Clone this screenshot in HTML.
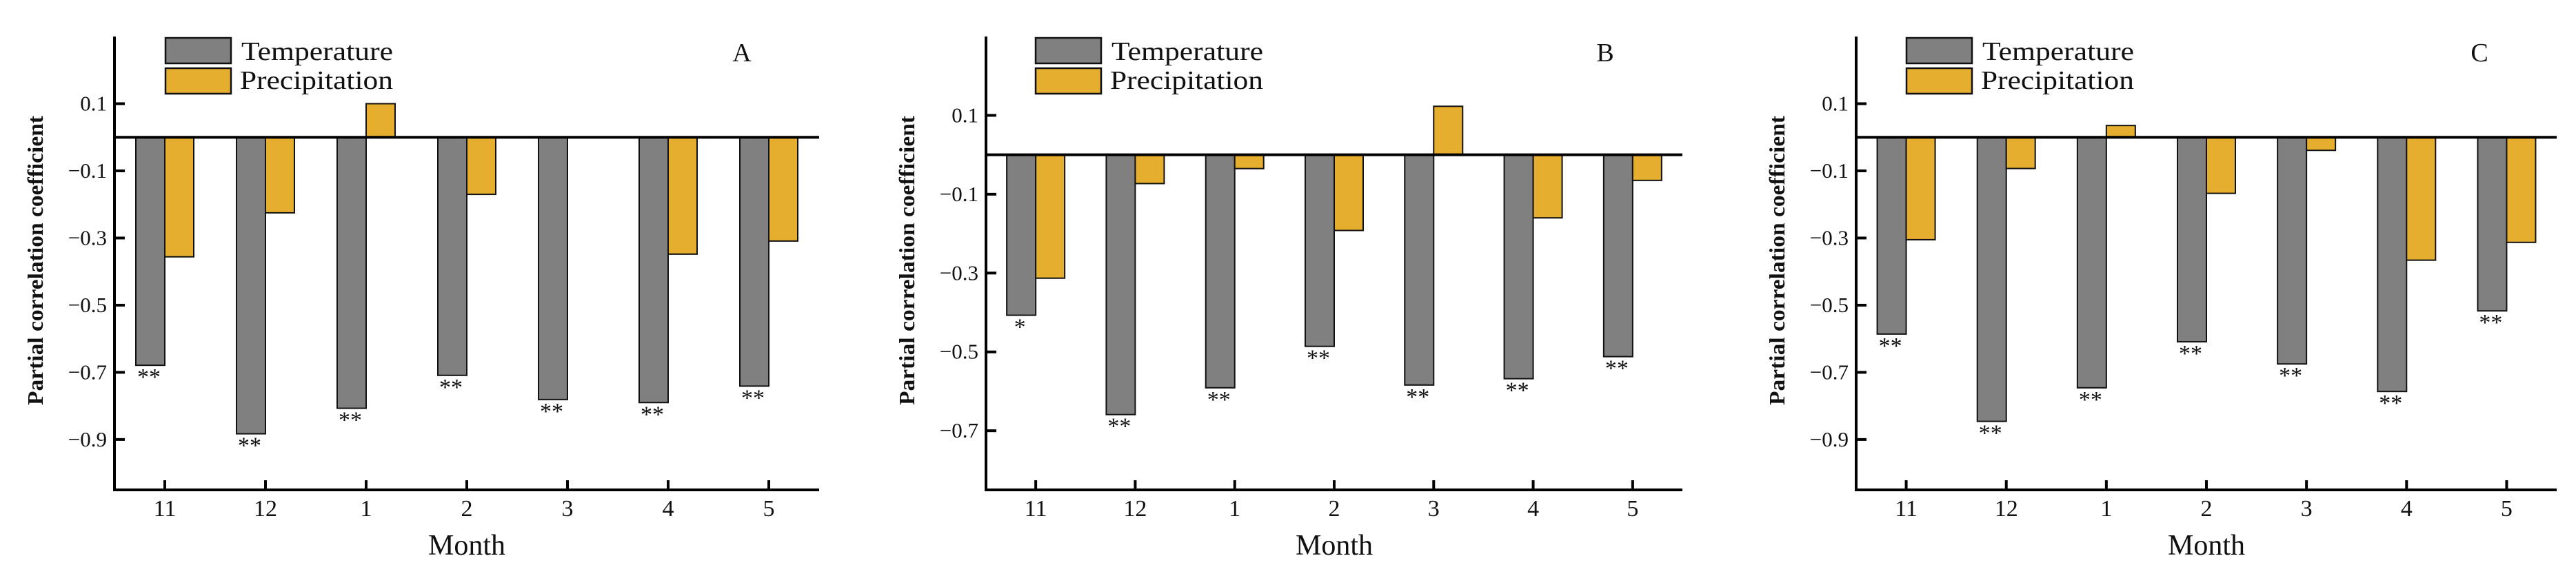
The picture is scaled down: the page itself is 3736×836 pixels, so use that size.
<!DOCTYPE html>
<html><head><meta charset="utf-8">
<style>
html,body{margin:0;padding:0;background:#fff;}
svg{display:block;}
text{font-family:"Liberation Serif",serif;fill:#111;}
</style></head>
<body>
<svg id="chart" width="3736" height="836" viewBox="0 0 3736 836" xmlns="http://www.w3.org/2000/svg"></svg>
<script>
const months = ["11","12","1","2","3","4","5"];
const tempA = [-0.679,-0.883,-0.807,-0.709,-0.781,-0.790,-0.741];
const precA = [-0.356,-0.225,0.100,-0.170,0,-0.348,-0.309];
const starsA = ["**","**","**","**","**","**","**"];
const tempB = [-0.407,-0.659,-0.591,-0.486,-0.584,-0.568,-0.512];
const precB = [-0.313,-0.073,-0.035,-0.192,0.123,-0.160,-0.065];
const starsB = ["*","**","**","**","**","**","**"];
const tempC = [-0.586,-0.846,-0.746,-0.609,-0.675,-0.757,-0.517];
const precC = [-0.305,-0.093,0.035,-0.167,-0.039,-0.366,-0.313];
const starsC = ["**","**","**","**","**","**","**"];
const ticksAC = [0.1,-0.1,-0.3,-0.5,-0.7,-0.9];
const ticksB = [0.1,-0.1,-0.3,-0.5,-0.7];

const svg = document.getElementById('chart');
const NS = "http://www.w3.org/2000/svg";
function mk(tag, attrs, parent){
  const e = document.createElementNS(NS, tag);
  for (const k in attrs) e.setAttribute(k, attrs[k]);
  (parent||svg).appendChild(e);
  return e;
}
function fmt(v){ const s = Math.abs(v).toFixed(1); return v<0 ? "\u2212"+s : s; }

function panel(p){
  const g = mk('g', {});
  
  
  const top=53, bottom=711;
  const y = v => top + (p.ymax - v) * (bottom-top)/(p.ymax - p.ymin);
  const step = (p.right - p.x0)/months.length;
  const xc = i => p.x0 + step*(i+0.5);
  const bw = 42;
  months.forEach((m,i)=>{
    const vt = p.temp[i], vp = p.prec[i], y0 = y(0);
    const t = mk('rect', {x:xc(i)-bw, y:Math.min(y0,y(vt)), width:bw, height:Math.abs(y(vt)-y0), fill:'#808080', stroke:'#111', 'stroke-width':2}, g);
    
    
    if (vp !== 0){
      const r = mk('rect', {x:xc(i), y:Math.min(y0,y(vp)), width:bw, height:Math.abs(y(vp)-y0), fill:'#E6AE2E', stroke:'#111', 'stroke-width':2}, g);
      
      
    }
    const s = mk('text', {x:xc(i)-bw/2-2, y:y(vt)+28, 'font-size':34, 'text-anchor':'middle'}, g);
    s.textContent = p.stars[i];
    
    
    const tk = mk('line', {x1:xc(i), x2:xc(i), y1:bottom, y2:bottom-14, stroke:'#000', 'stroke-width':4}, g);
    
    
    const tl = mk('text', {x:xc(i), y:bottom+38, 'font-size':34, 'text-anchor':'middle'}, g);
    tl.textContent = m;
    
    
  });
  const zl = mk('line', {x1:p.x0, x2:p.right, y1:y(0), y2:y(0), stroke:'#000', 'stroke-width':4}, g);
  
  
  const ya = mk('line', {x1:p.x0, x2:p.x0, y1:top, y2:bottom+2, stroke:'#000', 'stroke-width':4}, g);
  
  
  const xa = mk('line', {x1:p.x0-2, x2:p.right, y1:bottom, y2:bottom, stroke:'#000', 'stroke-width':4}, g);
  
  
  p.ticks.forEach(v=>{
    const t = mk('line', {x1:p.x0, x2:p.x0+15, y1:y(v), y2:y(v), stroke:'#000', 'stroke-width':4}, g);
    
    
    const l = mk('text', {x:p.x0-11, y:y(v)+10, 'font-size':31, 'text-anchor':'end'}, g);
    l.textContent = fmt(v);
    
    
  });
  const xt = mk('text', {x:(p.x0+p.right)/2, y:805, 'font-size':42, 'text-anchor':'middle', textLength:112, lengthAdjust:'spacingAndGlyphs'}, g);
  xt.textContent = 'Month';
  
  
  const yt = mk('text', {x:0, y:0, 'font-size':32, 'font-weight':'bold', 'text-anchor':'middle', textLength:420, lengthAdjust:'spacingAndGlyphs', transform:`translate(${p.ytx},378) rotate(-90)`}, g);
  yt.textContent = 'Partial correlation coefficient';
  
  
  const lg = mk('g', {}, g);
  
  
  const b1 = mk('rect', {x:p.lx, y:55, width:95, height:37, fill:'#808080', stroke:'#111', 'stroke-width':2.5}, lg);
  
  
  const t1 = mk('text', {x:p.lx+110, y:87, 'font-size':38, textLength:220, lengthAdjust:'spacingAndGlyphs'}, lg);
  t1.textContent = 'Temperature';
  
  
  const b2 = mk('rect', {x:p.lx, y:99, width:95, height:37, fill:'#E6AE2E', stroke:'#111', 'stroke-width':2.5}, lg);
  
  
  const t2 = mk('text', {x:p.lx+108, y:129, 'font-size':38, textLength:222, lengthAdjust:'spacingAndGlyphs'}, lg);
  t2.textContent = 'Precipitation';
  
  
  const pl = mk('text', {x:p.lettx, y:89, 'font-size':38, 'text-anchor':'middle'}, g);
  pl.textContent = p.letter;
  
  
}

panel({letter:'A', x0:166, right:1188, ymax:0.3, ymin:-1.05, temp:tempA, prec:precA, stars:starsA, ticks:ticksAC, ytx:62, lx:240, lettx:1076});
panel({letter:'B', x0:1430, right:2440, ymax:0.3, ymin:-0.85, temp:tempB, prec:precB, stars:starsB, ticks:ticksB, ytx:1326, lx:1502, lettx:2328});
panel({letter:'C', x0:2692, right:3708, ymax:0.3, ymin:-1.05, temp:tempC, prec:precC, stars:starsC, ticks:ticksAC, ytx:2588, lx:2765, lettx:3596});
</script>
</body></html>
